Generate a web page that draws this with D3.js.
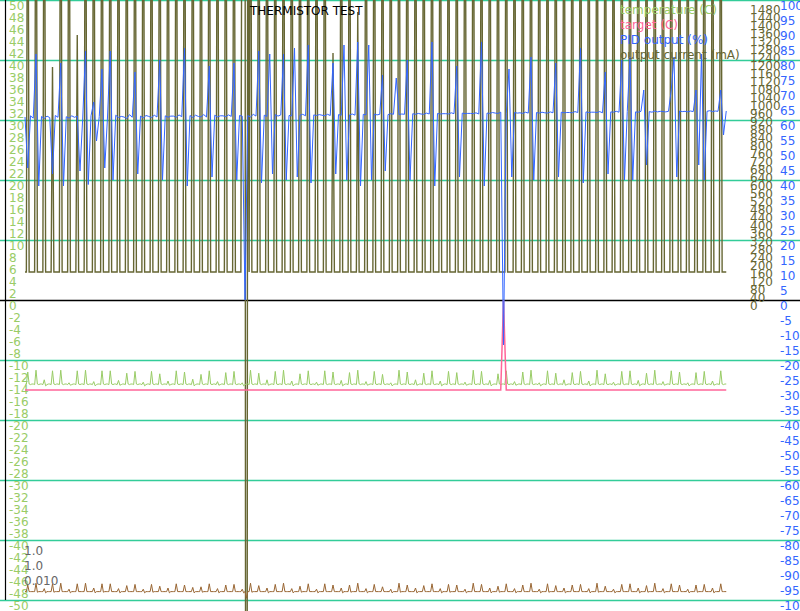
<!DOCTYPE html>
<html><head><meta charset="utf-8">
<script src="https://cdn.jsdelivr.net/npm/d3@7"></script>
<style>body{margin:0;background:#fff}svg{display:block}</style>
</head><body><svg id="c" width="800" height="611"></svg>
<script>
const chartTitle = "THERMISTOR TEST";
const legendLabels = ["temperature (C)", "target (C)", "PID output (%)", "output current (mA)"];
const gainLabels = ["1.0", "1.0", "0.010"];
const tempTicks = [50,48,46,44,42,40,38,36,34,32,30,28,26,24,22,20,18,16,14,12,10,8,6,4,2,0,-2,-4,-6,-8,-10,-12,-14,-16,-18,-20,-22,-24,-26,-28,-30,-32,-34,-36,-38,-40,-42,-44,-46,-48,-50];
const gridTemps = [50,40,30,20,10,-10,-20,-30,-40,-50];
const currentTicks = [1480,1440,1400,1360,1320,1280,1240,1200,1160,1120,1080,1040,1000,960,920,880,840,800,760,720,680,640,600,560,520,480,440,400,360,320,280,240,200,160,120,80,40,0];
const pidTicks = [100,95,90,85,80,75,70,65,60,55,50,45,40,35,30,25,20,15,10,5,0,-5,-10,-15,-20,-25,-30,-35,-40,-45,-50,-55,-60,-65,-70,-75,-80,-85,-90,-95,-100];

// output current (mA), fast samples (one row per pulse)
const currentValues = [
140,140,3000,140,140,140,
140,140,3000,140,140,140,
140,140,3000,140,140,140,
140,140,1165,140,140,140,
140,140,3000,140,140,140,
140,140,3000,140,140,140,
140,140,1325,140,140,140,
140,140,3000,140,140,140,
140,140,3000,140,140,140,
140,140,3000,140,140,140,
140,140,3000,140,140,140,
140,140,3000,140,140,140,
140,140,3000,140,140,140,
140,140,3000,140,140,140,
140,140,3000,140,140,140,
140,140,3000,140,140,140,
140,140,3000,140,140,140,
140,140,3000,140,140,140,
140,140,3000,140,140,140,
140,140,3000,140,140,140,
140,140,3000,140,140,140,
140,140,3000,140,140,140,
140,140,3000,140,140,140,
140,140,3000,140,140,140,
140,140,3000,140,140,140,
140,140,3000,140,140,140,
140,140,3000,3000,3000,-9000,
3000,140,3000,140,140,140,
140,140,3000,140,140,140,
140,140,3000,140,140,140,
140,140,3000,140,140,140,
140,140,3000,140,140,140,
140,140,3000,140,140,140,
140,140,3000,140,140,140,
140,140,3000,140,140,140,
140,140,3000,140,140,140,
140,140,3000,140,140,140,
140,140,1235,140,140,140,
140,140,3000,140,140,140,
140,140,3000,140,140,140,
140,140,1440,140,140,140,
140,140,3000,140,140,140,
140,140,3000,140,140,140,
140,140,3000,140,140,140,
140,140,3000,140,140,140,
140,140,3000,140,140,140,
140,140,3000,140,140,140,
140,140,3000,140,140,140,
140,140,3000,140,140,140,
140,140,3000,140,140,140,
140,140,3000,140,140,140,
140,140,3000,140,140,140,
140,140,3000,140,140,140,
140,140,3000,140,140,140,
140,140,3000,140,140,140,
140,140,3000,140,140,140,
140,140,3000,140,140,140,
140,140,3000,140,140,140,
140,140,3000,140,140,140,
140,140,3000,140,140,140,
140,140,3000,140,140,140,
140,140,3000,140,140,140,
140,140,3000,140,140,140,
140,140,3000,140,140,140,
140,140,3000,140,140,140,
140,140,3000,140,140,140,
140,140,3000,140,140,140,
140,140,3000,140,140,140,
140,140,3000,140,140,140,
140,140,3000,140,140,140,
140,140,3000,140,140,140,
140,140,3000,140,140,140,
140,140,3000,140,140,140,
140,140,3000,140,140,140,
140,140,3000,140,140,140,
140,140,3000,140,140,140,
140,140,3000,140,140,140,
140,140,3000,140,140,140,
140,140,3000,140,140,140,
140,140,3000,140,140,140,
140,140,3000,140,140,140,
140,140,3000,140,140,140,
140,140,3000,140,140,140,
140,140,3000,140,140,140,
140,140,3000,140,140,140,
140];

// temperature (C), fast samples
const temperatureValues = [
-14.0,-14.1,-12.0,-14.0,-14.1,-14.0,
-14.0,-14.1,-11.7,-14.0,-14.1,-14.0,
-14.0,-14.1,-13.3,-14.3,-14.1,-14.0,
-14.0,-14.1,-11.8,-14.0,-14.1,-14.0,
-14.0,-14.1,-11.7,-14.0,-14.1,-14.0,
-14.0,-14.1,-13.8,-14.2,-14.1,-14.0,
-14.0,-14.1,-11.8,-14.0,-14.1,-14.0,
-14.0,-14.1,-11.7,-14.0,-14.1,-14.0,
-14.0,-14.1,-13.6,-14.3,-14.1,-14.0,
-14.0,-14.1,-11.8,-14.0,-14.1,-14.0,
-14.0,-14.1,-11.8,-14.0,-14.1,-14.0,
-14.0,-14.1,-13.4,-14.2,-14.1,-14.0,
-14.0,-14.1,-12.2,-14.0,-14.1,-14.0,
-14.0,-14.1,-11.9,-14.0,-14.1,-14.0,
-14.0,-14.1,-13.7,-14.3,-14.1,-14.0,
-14.0,-14.1,-11.9,-14.0,-14.1,-14.0,
-14.0,-14.1,-12.3,-14.0,-14.1,-14.0,
-14.0,-14.1,-13.5,-14.2,-14.1,-14.0,
-14.0,-14.1,-11.8,-14.0,-14.1,-14.0,
-14.0,-14.1,-12.0,-14.0,-14.1,-14.0,
-14.0,-14.1,-13.2,-14.3,-14.1,-14.0,
-14.0,-14.1,-12.4,-14.0,-14.1,-14.0,
-14.0,-14.1,-11.8,-14.0,-14.1,-14.0,
-14.0,-14.1,-13.6,-14.2,-14.1,-14.0,
-14.0,-14.1,-12.1,-14.0,-14.1,-14.0,
-14.0,-14.1,-11.9,-14.0,-14.1,-14.0,
-14.0,-14.1,-13.8,-14.3,-14.1,-14.0,
-14.0,-14.1,-11.7,-14.0,-14.1,-14.0,
-14.0,-14.1,-12.2,-14.0,-14.1,-14.0,
-14.0,-14.1,-13.3,-14.2,-14.1,-14.0,
-14.0,-14.1,-11.9,-14.0,-14.1,-14.0,
-14.0,-14.1,-11.7,-14.0,-14.1,-14.0,
-14.0,-14.1,-13.5,-14.3,-14.1,-14.0,
-14.0,-14.1,-12.3,-14.0,-14.1,-14.0,
-14.0,-14.1,-11.8,-14.0,-14.1,-14.0,
-14.0,-14.1,-13.7,-14.2,-14.1,-14.0,
-14.0,-14.1,-11.8,-14.0,-14.1,-14.0,
-14.0,-14.1,-12.0,-14.0,-14.1,-14.0,
-14.0,-14.1,-13.4,-14.3,-14.1,-14.0,
-14.0,-14.1,-12.1,-14.0,-14.1,-14.0,
-14.0,-14.1,-11.7,-14.0,-14.1,-14.0,
-14.0,-14.1,-13.6,-14.2,-14.1,-14.0,
-14.0,-14.1,-11.9,-14.0,-14.1,-14.0,
-14.0,-14.1,-12.4,-14.0,-14.1,-14.0,
-14.0,-14.1,-13.8,-14.3,-14.1,-14.0,
-14.0,-14.1,-11.7,-14.0,-14.1,-14.0,
-14.0,-14.1,-12.0,-14.0,-14.1,-14.0,
-14.0,-14.1,-13.3,-14.2,-14.1,-14.0,
-14.0,-14.1,-12.2,-14.0,-14.1,-14.0,
-14.0,-14.1,-11.8,-14.0,-14.1,-14.0,
-14.0,-14.1,-13.5,-14.3,-14.1,-14.0,
-14.0,-14.1,-11.9,-14.0,-14.1,-14.0,
-14.0,-14.1,-12.1,-14.0,-14.1,-14.0,
-14.0,-14.1,-13.7,-14.2,-14.1,-14.0,
-14.0,-14.1,-11.7,-14.0,-14.1,-14.0,
-14.0,-14.1,-11.9,-14.0,-14.1,-14.0,
-14.0,-14.1,-13.4,-14.3,-14.1,-14.0,
-14.0,-14.1,-12.3,-14.0,-14.1,-14.0,
-14.0,-14.1,-11.8,-14.0,-14.1,-14.0,
-14.0,-14.1,-13.6,-14.2,-14.1,-14.0,
-14.0,-14.1,-12.0,-14.0,-14.1,-14.0,
-14.0,-14.1,-11.7,-14.0,-14.1,-14.0,
-14.0,-14.1,-13.8,-14.3,-14.1,-14.0,
-14.0,-14.1,-11.8,-14.0,-14.1,-14.0,
-14.0,-14.1,-12.2,-14.0,-14.1,-14.0,
-14.0,-14.1,-13.3,-14.2,-14.1,-14.0,
-14.0,-14.1,-12.1,-14.0,-14.1,-14.0,
-14.0,-14.1,-11.9,-14.0,-14.1,-14.0,
-14.0,-14.1,-13.5,-14.3,-14.1,-14.0,
-14.0,-14.1,-11.7,-14.0,-14.1,-14.0,
-14.0,-14.1,-12.3,-14.0,-14.1,-14.0,
-14.0,-14.1,-13.7,-14.2,-14.1,-14.0,
-14.0,-14.1,-11.9,-14.0,-14.1,-14.0,
-14.0,-14.1,-11.8,-14.0,-14.1,-14.0,
-14.0,-14.1,-13.4,-14.3,-14.1,-14.0,
-14.0,-14.1,-12.2,-14.0,-14.1,-14.0,
-14.0,-14.1,-11.7,-14.0,-14.1,-14.0,
-14.0,-14.1,-13.6,-14.2,-14.1,-14.0,
-14.0,-14.1,-11.8,-14.0,-14.1,-14.0,
-14.0,-14.1,-12.0,-14.0,-14.1,-14.0,
-14.0,-14.1,-13.8,-14.3,-14.1,-14.0,
-14.0,-14.1,-12.1,-14.0,-14.1,-14.0,
-14.0,-14.1,-11.9,-14.0,-14.1,-14.0,
-14.0,-14.1,-13.5,-14.2,-14.1,-14.0,
-14.0,-14.1,-11.8,-14.0,-14.1,-14.0,
-14.0];

// unlabelled brown trace (temperature scale), fast samples
const brownValues = [
-48.6,-48.6,-47.5,-48.6,-48.6,-48.6,
-48.6,-48.6,-47.2,-48.7,-48.6,-48.6,
-48.6,-48.6,-48.1,-48.8,-48.6,-48.6,
-48.6,-48.6,-47.3,-48.7,-48.6,-48.6,
-48.6,-48.6,-47.2,-48.6,-48.6,-48.6,
-48.6,-48.6,-48.2,-48.8,-48.6,-48.6,
-48.6,-48.6,-47.3,-48.6,-48.6,-48.6,
-48.6,-48.6,-47.2,-48.6,-48.6,-48.6,
-48.6,-48.6,-48.0,-48.8,-48.6,-48.6,
-48.6,-48.6,-47.3,-48.7,-48.6,-48.6,
-48.6,-48.6,-47.3,-48.6,-48.6,-48.6,
-48.6,-48.6,-48.1,-48.8,-48.6,-48.6,
-48.6,-48.6,-47.6,-48.6,-48.6,-48.6,
-48.6,-48.6,-47.4,-48.6,-48.6,-48.6,
-48.6,-48.6,-48.2,-48.8,-48.6,-48.6,
-48.6,-48.6,-47.4,-48.7,-48.6,-48.6,
-48.6,-48.6,-47.7,-48.6,-48.6,-48.6,
-48.6,-48.6,-48.0,-48.8,-48.6,-48.6,
-48.6,-48.6,-47.3,-48.6,-48.6,-48.6,
-48.6,-48.6,-47.5,-48.6,-48.6,-48.6,
-48.6,-48.6,-47.9,-48.8,-48.6,-48.6,
-48.6,-48.6,-47.8,-48.7,-48.6,-48.6,
-48.6,-48.6,-47.3,-48.6,-48.6,-48.6,
-48.6,-48.6,-48.1,-48.8,-48.6,-48.6,
-48.6,-48.6,-47.5,-48.6,-48.6,-48.6,
-48.6,-48.6,-47.4,-48.6,-48.6,-48.6,
-48.6,-48.6,-48.2,-48.8,-48.6,-49.7,
-48.6,-48.6,-47.2,-48.7,-48.6,-48.6,
-48.6,-48.6,-47.6,-48.6,-48.6,-48.6,
-48.6,-48.6,-48.0,-48.8,-48.6,-48.6,
-48.6,-48.6,-47.4,-48.6,-48.6,-48.6,
-48.6,-48.6,-47.2,-48.6,-48.6,-48.6,
-48.6,-48.6,-48.1,-48.8,-48.6,-48.6,
-48.6,-48.6,-47.7,-48.7,-48.6,-48.6,
-48.6,-48.6,-47.3,-48.6,-48.6,-48.6,
-48.6,-48.6,-48.2,-48.8,-48.6,-48.6,
-48.6,-48.6,-47.3,-48.6,-48.6,-48.6,
-48.6,-48.6,-47.5,-48.6,-48.6,-48.6,
-48.6,-48.6,-48.0,-48.8,-48.6,-48.6,
-48.6,-48.6,-47.5,-48.7,-48.6,-48.6,
-48.6,-48.6,-47.2,-48.6,-48.6,-48.6,
-48.6,-48.6,-48.1,-48.8,-48.6,-48.6,
-48.6,-48.6,-47.4,-48.6,-48.6,-48.6,
-48.6,-48.6,-47.8,-48.6,-48.6,-48.6,
-48.6,-48.6,-48.2,-48.8,-48.6,-48.6,
-48.6,-48.6,-47.2,-48.7,-48.6,-48.6,
-48.6,-48.6,-47.5,-48.6,-48.6,-48.6,
-48.6,-48.6,-48.0,-48.8,-48.6,-48.6,
-48.6,-48.6,-47.6,-48.6,-48.6,-48.6,
-48.6,-48.6,-47.3,-48.6,-48.6,-48.6,
-48.6,-48.6,-48.1,-48.8,-48.6,-48.6,
-48.6,-48.6,-47.4,-48.7,-48.6,-48.6,
-48.6,-48.6,-47.5,-48.6,-48.6,-48.6,
-48.6,-48.6,-48.2,-48.8,-48.6,-48.6,
-48.6,-48.6,-47.2,-48.6,-48.6,-48.6,
-48.6,-48.6,-47.4,-48.6,-48.6,-48.6,
-48.6,-48.6,-48.0,-48.8,-48.6,-48.6,
-48.6,-48.6,-47.7,-48.7,-48.6,-48.6,
-48.6,-48.6,-47.3,-48.6,-48.6,-48.6,
-48.6,-48.6,-48.1,-48.8,-48.6,-48.6,
-48.6,-48.6,-47.5,-48.6,-48.6,-48.6,
-48.6,-48.6,-47.2,-48.6,-48.6,-48.6,
-48.6,-48.6,-48.2,-48.8,-48.6,-48.6,
-48.6,-48.6,-47.3,-48.7,-48.6,-48.6,
-48.6,-48.6,-47.6,-48.6,-48.6,-48.6,
-48.6,-48.6,-48.0,-48.8,-48.6,-48.6,
-48.6,-48.6,-47.5,-48.6,-48.6,-48.6,
-48.6,-48.6,-47.4,-48.6,-48.6,-48.6,
-48.6,-48.6,-48.1,-48.8,-48.6,-48.6,
-48.6,-48.6,-47.2,-48.7,-48.6,-48.6,
-48.6,-48.6,-47.7,-48.6,-48.6,-48.6,
-48.6,-48.6,-48.2,-48.8,-48.6,-48.6,
-48.6,-48.6,-47.4,-48.6,-48.6,-48.6,
-48.6,-48.6,-47.3,-48.6,-48.6,-48.6,
-48.6,-48.6,-48.0,-48.8,-48.6,-48.6,
-48.6,-48.6,-47.6,-48.7,-48.6,-48.6,
-48.6,-48.6,-47.2,-48.6,-48.6,-48.6,
-48.6,-48.6,-48.1,-48.8,-48.6,-48.6,
-48.6,-48.6,-47.3,-48.6,-48.6,-48.6,
-48.6,-48.6,-47.5,-48.6,-48.6,-48.6,
-48.6,-48.6,-48.2,-48.8,-48.6,-48.6,
-48.6,-48.6,-47.5,-48.7,-48.6,-48.6,
-48.6,-48.6,-47.4,-48.6,-48.6,-48.6,
-48.6,-48.6,-48.0,-48.8,-48.6,-48.6,
-48.6,-48.6,-47.3,-48.6,-48.6,-48.6,
-48.6];

// PID output (%), slow samples (every second fast sample)
const pidValues = [
61.0,44.0,61.4,60.6,82.0,38.0,61.2,60.5,61.3,
60.8,42.0,61.5,60.9,79.0,38.0,61.1,60.6,61.4,
60.9,61.3,43.0,61.0,83.0,38.5,61.4,66.0,53.0,
61.1,77.0,44.0,61.0,83.0,40.0,61.6,60.8,61.2,
61.0,60.5,61.8,60.9,76.0,42.0,61.3,60.7,61.5,
61.2,60.8,61.6,61.0,80.0,40.0,61.4,60.9,61.3,
61.3,60.9,61.7,61.1,84.0,38.0,61.5,60.8,61.6,
61.2,61.0,61.8,61.0,78.0,41.0,61.6,61.0,61.4,
61.4,61.1,61.7,61.2,79.0,40.0,61.5,61.3,0,
61.5,61.0,61.9,61.3,83.0,39.0,61.6,61.2,82.0,
42.0,61.8,61.3,61.7,82.0,40.0,61.5,61.4,84.0,
41.0,61.6,61.9,61.4,85.0,39.0,61.7,61.5,61.8,
61.6,61.4,61.9,61.5,79.0,42.0,61.8,61.6,85.0,
40.0,61.7,62.0,61.6,86.0,38.0,61.9,61.7,85.0,
40.0,62.0,61.7,61.9,75.0,43.0,61.8,62.1,61.9,
74.0,61.8,62.0,61.9,80.0,40.0,62.1,61.9,62.2,
62.0,61.9,62.3,62.0,86.0,38.0,62.2,62.0,62.1,
62.1,62.0,62.4,62.1,78.0,41.0,62.3,62.1,62.2,
62.2,62.1,62.4,62.0,86.0,38.0,62.3,62.2,62.5,
62.3,62.2,62.6,-15.0,62.1,77.0,41.0,62.5,62.3,
62.4,62.2,62.6,62.3,81.0,40.0,62.5,62.3,62.6,
62.4,62.3,62.7,62.4,79.0,41.0,62.6,62.4,62.5,
62.5,62.4,62.8,62.5,84.0,39.0,62.7,62.5,62.6,
62.6,62.5,62.8,62.4,76.0,42.0,62.7,62.6,62.9,
62.6,80.0,40.0,62.8,81.0,40.0,62.7,62.6,62.9,
70.0,45.0,62.8,62.6,63.0,62.7,62.9,62.8,62.7,
62.9,70.0,81.0,41.0,63.0,62.8,62.9,62.7,63.0,
62.8,70.0,45.0,82.0,40.0,62.9,63.1,62.8,63.0,
62.9,70.0,55.0,63.0];

// target (C), slow samples
const targetValues = [
-15,-15,-15,-15,-15,-15,-15,-15,-15, -15,-15,-15,-15,-15,-15,-15,-15,-15,
-15,-15,-15,-15,-15,-15,-15,-15,-15, -15,-15,-15,-15,-15,-15,-15,-15,-15,
-15,-15,-15,-15,-15,-15,-15,-15,-15, -15,-15,-15,-15,-15,-15,-15,-15,-15,
-15,-15,-15,-15,-15,-15,-15,-15,-15, -15,-15,-15,-15,-15,-15,-15,-15,-15,
-15,-15,-15,-15,-15,-15,-15,-15,-15, -15,-15,-15,-15,-15,-15,-15,-15,-15,
-15,-15,-15,-15,-15,-15,-15,-15,-15, -15,-15,-15,-15,-15,-15,-15,-15,-15,
-15,-15,-15,-15,-15,-15,-15,-15,-15, -15,-15,-15,-15,-15,-15,-15,-15,-15,
-15,-15,-15,-15,-15,-15,-15,-15,-15, -15,-15,-15,-15,-15,-15,-15,-15,-15,
-15,-15,-15,-15,-15,-15,-15,-15,-15, -15,-15,-15,-15,-15,-15,-15,-15,-15,
-15,-15,-15,-15,-15,-15,-15,-15,-15, -15,-15,-15,0,-15,-15,-15,-15,-15,
-15,-15,-15,-15,-15,-15,-15,-15,-15, -15,-15,-15,-15,-15,-15,-15,-15,-15,
-15,-15,-15,-15,-15,-15,-15,-15,-15, -15,-15,-15,-15,-15,-15,-15,-15,-15,
-15,-15,-15,-15,-15,-15,-15,-15,-15, -15,-15,-15,-15,-15,-15,-15,-15,-15,
-15,-15,-15,-15,-15,-15,-15,-15,-15, -15,-15,-15,-15,-15,-15,-15,-15,-15,
-15,-15,-15,-15];

const C = {grid:"#33cc99", temp:"#99cc66", target:"#ff6699", pid:"#3366ff", current:"#666633", brown:"#996633", gain:"#666666"};
const FONT = "DejaVu Sans, sans-serif";

const svg = d3.select("#c");
const x = d3.scaleLinear().domain([0, currentValues.length - 1]).range([25, 726.25]);
const yT = d3.scaleLinear().domain([50, -50]).range([0, 600]);
const yC = d3.scaleLinear().domain([1500, 0]).range([0, 300]);
const yP = d3.scaleLinear().domain([100, -100]).range([0, 600]);

// grid lines
svg.append("g").selectAll("line").data(gridTemps).join("line")
  .attr("x1", 0).attr("x2", 800)
  .attr("y1", d => yT(d) + 0.5).attr("y2", d => yT(d) + 0.5)
  .attr("stroke", C.grid).attr("stroke-width", 1.3);

// zero line and left axis line
svg.append("line").attr("x1", 0).attr("x2", 800).attr("y1", yT(0) + 0.5).attr("y2", yT(0) + 0.5)
  .attr("stroke", "#000").attr("stroke-width", 1.4);
svg.append("line").attr("x1", 5.5).attr("x2", 5.5).attr("y1", yT(50)).attr("y2", yT(-50))
  .attr("stroke", "#000").attr("stroke-width", 1.2);

function drawAxis(scale, ticks, xPos, color) {
  const g = svg.append("g").attr("transform", `translate(${xPos},0)`)
    .call(d3.axisRight(scale).tickValues(ticks).tickSize(0).tickPadding(0).tickFormat(d => String(d)));
  g.select(".domain").remove();
  g.attr("font-family", FONT).attr("font-size", 12);
  g.selectAll("text").attr("fill", color).attr("dy", 9.3);
}
drawAxis(yT, tempTicks, 9, C.temp);
drawAxis(yC, currentTicks, 750, C.current);
drawAxis(yP, pidTicks, 780, C.pid);

// series: fast series at every sample, slow series at every second sample
const fastLine = scale => d3.line().x((d, i) => x(i)).y(d => scale(d));
const slowLine = scale => d3.line().x((d, i) => x(2 * i)).y(d => scale(d));
const plot = svg.append("g");
plot.append("path").datum(currentValues).attr("d", fastLine(yC))
  .attr("fill", "none").attr("stroke", C.current).attr("stroke-width", 1.4);
plot.append("path").datum(temperatureValues).attr("d", fastLine(yT))
  .attr("fill", "none").attr("stroke", C.temp).attr("stroke-width", 1);
plot.append("path").datum(targetValues).attr("d", slowLine(yT))
  .attr("fill", "none").attr("stroke", C.target).attr("stroke-width", 1.5);
plot.append("path").datum(pidValues).attr("d", slowLine(yP))
  .attr("fill", "none").attr("stroke", C.pid).attr("stroke-width", 1);
plot.append("path").datum(brownValues).attr("d", fastLine(yT))
  .attr("fill", "none").attr("stroke", C.brown).attr("stroke-width", 1);

// title
svg.append("text").attr("x", 250).attr("y", 15).attr("font-family", FONT).attr("font-size", 12)
  .attr("fill", "#000").text(chartTitle);

// legend
const legendColors = [C.temp, C.target, C.pid, C.current];
svg.append("g").selectAll("text").data(legendLabels).join("text")
  .attr("x", 620).attr("y", (d, i) => 14 + i * 15)
  .attr("font-family", FONT).attr("font-size", 12)
  .attr("fill", (d, i) => legendColors[i]).text(d => d);

// gain labels
svg.append("g").selectAll("text").data(gainLabels).join("text")
  .attr("x", 24).attr("y", (d, i) => 555 + i * 15)
  .attr("font-family", FONT).attr("font-size", 12)
  .attr("fill", C.gain).text(d => d);
</script></body></html>
